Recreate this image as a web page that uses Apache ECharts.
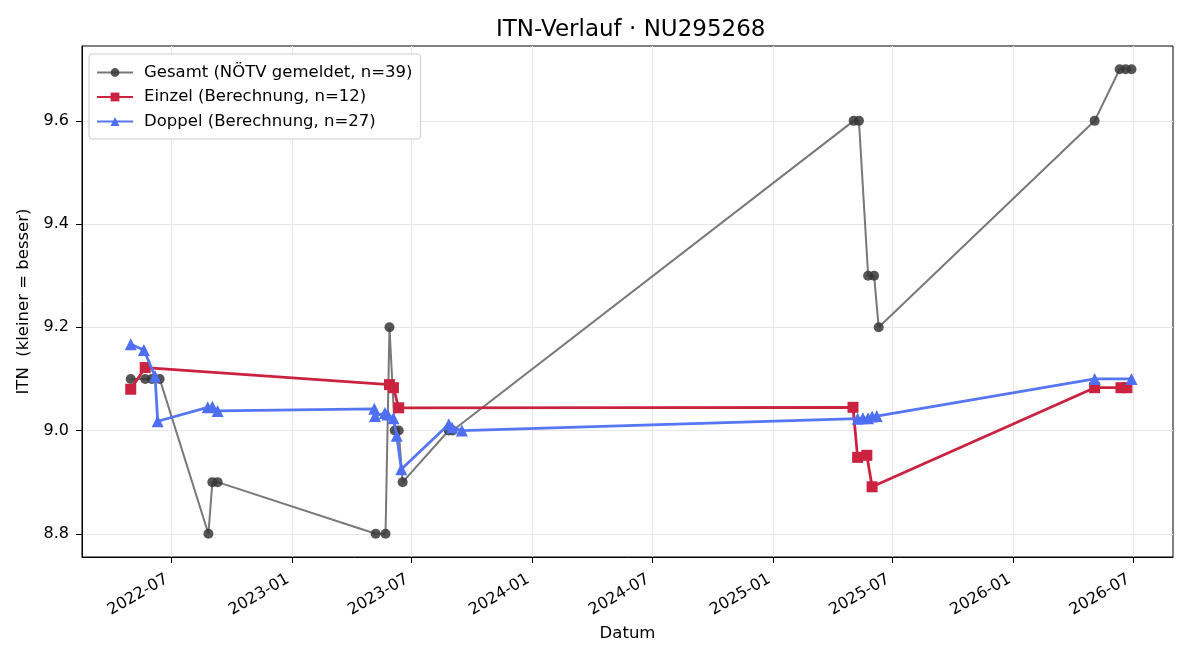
<!DOCTYPE html>
<html>
<head>
<meta charset="utf-8">
<script src="https://cdn.jsdelivr.net/npm/echarts@6/dist/echarts.min.js"></script>
<style>
  html, body { margin: 0; padding: 0; background: #fff; }
  #chart { width: 1200px; height: 660px; }
</style>
</head>
<body>
<div id="chart"></div>
<script>
// Gesamt (NÖTV gemeldet)
const gesamtDates = ['2022-05-01', '2022-05-23', '2022-06-02', '2022-06-14', '2022-08-27', '2022-09-02', '2022-09-10',
  '2023-05-08', '2023-05-23', '2023-05-29', '2023-06-06', '2023-06-12', '2023-06-18', '2023-08-27', '2023-09-02',
  '2025-05-03', '2025-05-11', '2025-05-25', '2025-06-03', '2025-06-10', '2026-05-04', '2026-06-11', '2026-06-20', '2026-06-29']
const gesamtValues = [9.1, 9.1, 9.1, 9.1, 8.8, 8.9, 8.9,
  8.8, 8.8, 9.2, 9.0, 9.0, 8.9, 9.0, 9.0,
  9.6, 9.6, 9.3, 9.3, 9.2, 9.6, 9.7, 9.7, 9.7]

// Einzel (Berechnung)
const einzelDates = ['2022-05-01', '2022-05-23', '2023-05-29', '2023-06-04', '2023-06-12', '2025-05-02',
  '2025-05-09', '2025-05-23', '2025-05-31', '2026-05-04', '2026-06-13', '2026-06-22']
const einzelValues = [9.080, 9.122, 9.089, 9.083, 9.044, 9.045, 8.948, 8.952, 8.891, 9.083, 9.083, 9.083]

// Doppel (Berechnung)
const doppelDates = ['2022-05-01', '2022-05-21', '2022-06-07', '2022-06-11', '2022-08-26', '2022-09-02', '2022-09-10',
  '2023-05-06', '2023-05-07', '2023-05-22', '2023-05-26', '2023-06-04', '2023-06-09', '2023-06-16',
  '2023-08-27', '2023-09-01', '2023-09-16',
  '2025-05-09', '2025-05-17', '2025-05-25', '2025-05-31', '2025-06-07', '2026-05-04', '2026-06-29']
const doppelValues = [9.167, 9.156, 9.105, 9.018, 9.045, 9.046, 9.038,
  9.042, 9.028, 9.034, 9.031, 9.024, 8.990, 8.925,
  9.012, 9.006, 9.000,
  9.023, 9.024, 9.024, 9.027, 9.028, 9.100, 9.100]

const xTicks = ['2022-07', '2023-01', '2023-07', '2024-01', '2024-07', '2025-01', '2025-07', '2026-01', '2026-07']
const yTicks = [8.8, 9.0, 9.2, 9.4, 9.6]

function toTime(s) {
  const p = s.split('-').map(Number)
  return Date.UTC(p[0], p[1] - 1, p[2] || 1)
}
function pad(n) {
  return n < 10 ? '0' + n : '' + n
}
function pairs(dates, values) {
  return dates.map((d, i) => [toTime(d), values[i]])
}

const font = 'DejaVu Sans'
const chart = echarts.init(document.getElementById('chart'))
const xTickTimes = xTicks.map(toTime)

const option = {
  animation: false,
  textStyle: { fontFamily: font },
  title: {
    text: 'ITN-Verlauf · NU295268',
    left: 491,
    top: 14,
    textStyle: { fontFamily: font, fontSize: 23, fontWeight: 'normal', color: '#000' }
  },
  legend: {
    orient: 'vertical',
    left: 89,
    top: 54,
    padding: [10, 8, 9, 7],
    itemGap: 7.5,
    itemWidth: 36,
    itemHeight: 11,
    backgroundColor: '#fff',
    borderColor: '#ccc',
    borderWidth: 1,
    borderRadius: 3,
    textStyle: { fontFamily: font, fontSize: 16.5, color: '#000', padding: [0, 0, 0, 6] },
    data: ['Gesamt (NÖTV gemeldet, n=39)', 'Einzel (Berechnung, n=12)', 'Doppel (Berechnung, n=27)']
  },
  grid: {
    left: 82,
    right: 27,
    top: 46,
    bottom: 103,
    show: true,
    borderColor: '#000',
    borderWidth: 1,
    containLabel: false
  },
  xAxis: {
    type: 'value',
    min: toTime('2022-02-16'),
    max: toTime('2026-08-31'),
    name: 'Datum',
    nameLocation: 'middle',
    nameGap: 68,
    nameTextStyle: { fontFamily: font, fontSize: 16.5, color: '#000' },
    axisLine: { show: true, onZero: false, lineStyle: { color: '#000' } },
    axisTick: { show: true, length: 6, lineStyle: { color: '#000' }, customValues: xTickTimes },
    axisLabel: {
      customValues: xTickTimes,
      rotate: 30,
      margin: 28,
      verticalAlign: 'bottom',
      fontFamily: font,
      fontSize: 16,
      color: '#000',
      formatter: (v) => {
        const d = new Date(v)
        return d.getUTCFullYear() + '-' + pad(d.getUTCMonth() + 1)
      }
    },
    splitLine: { show: true, lineStyle: { color: '#e6e6e6', width: 1 } }
  },
  yAxis: {
    type: 'value',
    min: 8.755,
    max: 9.745,
    name: 'ITN  (kleiner = besser)',
    nameLocation: 'middle',
    nameGap: 48,
    nameTextStyle: { fontFamily: font, fontSize: 16.5, color: '#000' },
    axisLine: { show: true, onZero: false, lineStyle: { color: '#000' } },
    axisTick: { show: true, length: 6, lineStyle: { color: '#000' }, customValues: yTicks },
    axisLabel: {
      customValues: yTicks,
      margin: 13,
      fontFamily: font,
      fontSize: 16,
      color: '#000',
      formatter: (v) => v.toFixed(1)
    },
    splitLine: { show: true, lineStyle: { color: '#e6e6e6', width: 1 } }
  },
  series: [
    {
      name: 'Gesamt (NÖTV gemeldet, n=39)',
      type: 'line',
      data: pairs(gesamtDates, gesamtValues),
      symbol: 'circle',
      symbolSize: 10,
      lineStyle: { color: '#787878', width: 2 },
      itemStyle: { color: 'rgba(55,55,55,0.85)', borderWidth: 0 },
      z: 2
    },
    {
      name: 'Einzel (Berechnung, n=12)',
      type: 'line',
      data: pairs(einzelDates, einzelValues),
      symbol: 'rect',
      symbolSize: 11,
      lineStyle: { color: '#cb2240', width: 2.8 },
      itemStyle: { color: '#cb2240', borderWidth: 0 },
      z: 3
    },
    {
      name: 'Doppel (Berechnung, n=27)',
      type: 'line',
      data: pairs(doppelDates, doppelValues),
      symbol: 'triangle',
      symbolSize: 12,
      lineStyle: { color: '#5676f2', width: 2.8 },
      itemStyle: { color: '#4f6ff2', borderWidth: 0 },
      z: 4
    }
  ]
}

chart.setOption(option)
</script>
</body>
</html>
